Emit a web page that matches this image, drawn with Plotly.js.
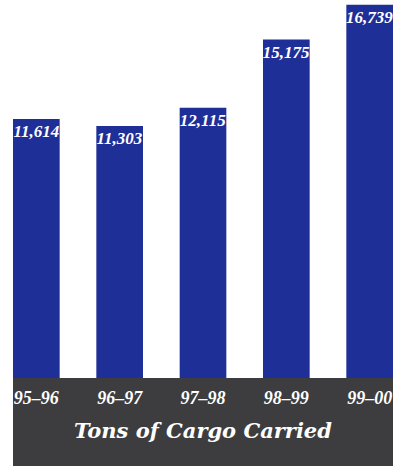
<!DOCTYPE html>
<html>
<head>
<meta charset="utf-8">
<script src="https://cdn.plot.ly/plotly-3.0.1.min.js"></script>
<style>html,body{margin:0;padding:0;background:#fff;}#chart{width:400px;height:466px;}</style>
</head>
<body>
<div id="chart"></div>
<script>
var seasons = ["95–96", "96–97", "97–98", "98–99", "99–00"];
var tonsCarried = [11614, 11303, 12115, 15175, 16739];
var valueLabels = ["11,614", "11,303", "12,115", "15,175", "16,739"];
var chartTitle = "Tons of Cargo Carried";

var LABEL_FONT = "Liberation Serif, DejaVu Serif, serif";
var TITLE_FONT = "DejaVu Serif, Liberation Serif, serif";

var trace = {
  type: "bar",
  x: seasons,
  y: tonsCarried,
  text: valueLabels,
  textposition: "inside",
  insidetextanchor: "end",
  textangle: 0,
  constraintext: "none",
  textfont: {family: LABEL_FONT, size: 17, color: "#ffffff", weight: "bold", style: "italic"},
  marker: {color: "#1f2f98", line: {width: 0}},
  hoverinfo: "none"
};

var layout = {
  width: 400,
  height: 466,
  margin: {l: 13, r: 7, t: 0, b: 88},
  paper_bgcolor: "#ffffff",
  plot_bgcolor: "#ffffff",
  showlegend: false,
  bargap: 0.44,
  xaxis: {
    type: "category",
    range: [-0.28, 4.28],
    showgrid: false,
    zeroline: false,
    showline: false,
    ticks: "",
    ticklabelstandoff: 7,
    tickfont: {family: LABEL_FONT, size: 18, color: "#ffffff", weight: "bold", style: "italic"},
    title: {
      text: chartTitle,
      standoff: 16,
      font: {family: TITLE_FONT, size: 21, color: "#ffffff", weight: "bold", style: "italic"}
    }
  },
  yaxis: {
    range: [0, 16950],
    visible: false,
    showgrid: false,
    zeroline: false
  },
  shapes: [{
    type: "rect",
    xref: "paper", yref: "paper",
    x0: 0, x1: 1,
    y0: -88 / 378, y1: 0,
    fillcolor: "#3d3d3f",
    line: {width: 0},
    layer: "below"
  }]
};

Plotly.newPlot("chart", [trace], layout, {displayModeBar: false, staticPlot: true});
</script>
</body>
</html>
